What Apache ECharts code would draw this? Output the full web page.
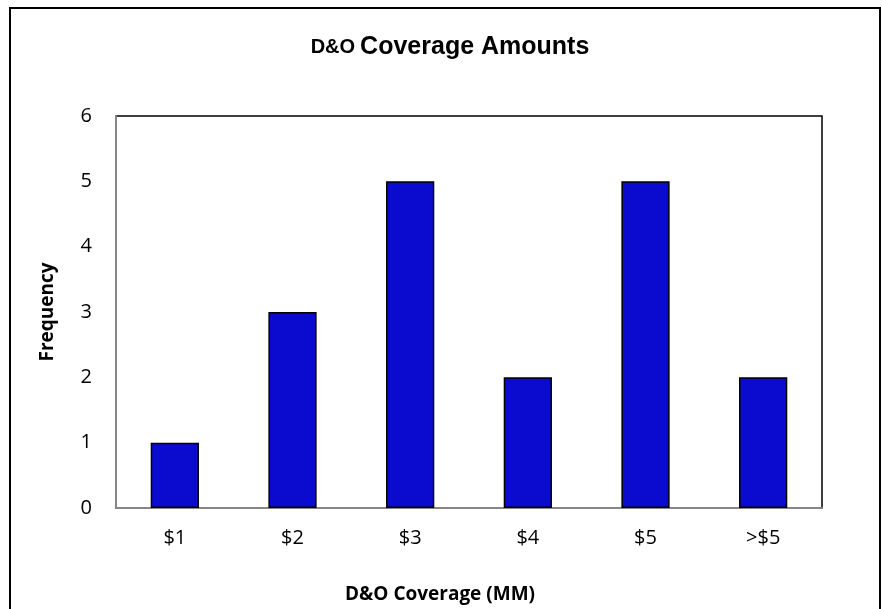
<!DOCTYPE html>
<html>
<head>
<meta charset="utf-8">
<script src="https://cdn.jsdelivr.net/npm/echarts@6/dist/echarts.min.js"></script>
<style>
html,body{margin:0;padding:0;background:#fff;}
#c{width:882px;height:609px;}
</style>
</head>
<body>
<div id="c"></div>
<script>
const categories = ['$1', '$2', '$3', '$4', '$5', '>$5'];
const frequency = [1, 3, 5, 2, 5, 2];
const yTicks = [0, 1, 2, 3, 4, 5, 6];

const chart = echarts.init(document.getElementById('c'));
chart.setOption({
  animation: false,
  backgroundColor: '#ffffff',
  title: {
    text: '{a|D&O} {b|Coverage Amounts}',
    left: 445,
    textAlign: 'center',
    top: 30,
    textStyle: {
      rich: {
        a: { fontFamily: 'Liberation Sans', fontWeight: 'bold', fontSize: 20, color: '#000' },
        b: { fontFamily: 'Liberation Sans', fontWeight: 'bold', fontSize: 25, color: '#000' }
      }
    }
  },
  graphic: [{
    type: 'rect',
    shape: { x: 10, y: 8, width: 870, height: 620 },
    style: { fill: 'none', stroke: '#000', lineWidth: 2 },
    silent: true,
    z: 100
  }],
  grid: {
    left: 116, right: 60, top: 116, bottom: 95,
    show: true, borderColor: '#000', borderWidth: 1.5, backgroundColor: '#fff'
  },
  xAxis: {
    type: 'category',
    data: categories,
    axisLine: { show: true, lineStyle: { color: '#868686', width: 2 } },
    axisTick: { show: false },
    axisLabel: { fontFamily: 'Open Sans', fontSize: 20, color: '#000', margin: 20 },
    name: 'D&O Coverage (MM)',
    nameLocation: 'middle',
    nameGap: 77,
    nameTextStyle: { fontFamily: 'Open Sans', fontWeight: 'bold', fontSize: 19, color: '#000', padding: [0, 58, 0, 0] }
  },
  yAxis: {
    type: 'value',
    min: yTicks[0],
    max: yTicks[yTicks.length - 1],
    interval: 1,
    splitLine: { show: false },
    axisLine: { show: true, lineStyle: { color: '#868686', width: 2 } },
    axisTick: { show: false },
    axisLabel: { fontFamily: 'Open Sans', fontSize: 20, color: '#000', margin: 24 },
    name: 'Frequency',
    nameLocation: 'middle',
    nameGap: 59,
    nameTextStyle: { fontFamily: 'Open Sans', fontWeight: 'bold', fontSize: 19, color: '#000' }
  },
  series: [{
    type: 'bar',
    data: frequency,
    barWidth: '41%',
    itemStyle: { color: '#0b0bcf', borderColor: '#000', borderWidth: 1.5 }
  }]
});
</script>
</body>
</html>
